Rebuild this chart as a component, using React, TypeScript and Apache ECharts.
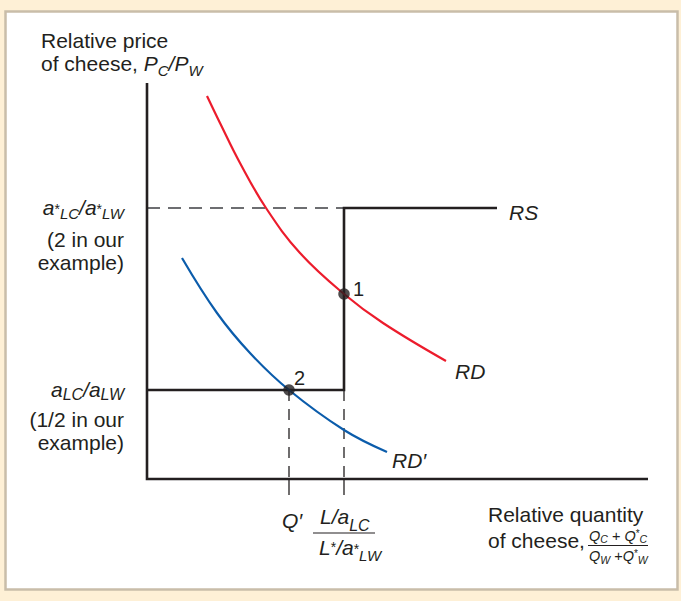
import React, { useEffect, useRef } from "react";
import * as echarts from "echarts";

// ---- data (abstract units of the diagram) ----
const X_MAX = 501;
const Y_MAX = 396;
const axisFrame = [[0, 396], [0, 0], [501, 0]];
const priceLevels = [271, 89]; // a*LC/a*LW (2), aLC/aLW (1/2)
const quantityLevels = [142, 197]; // Q', L/aLC ÷ L*/a*LW
const rsEnd = 350;
const rdCurve = [[60, 383], [73, 356], [93, 316], [119, 271], [153, 226], [197, 185], [236, 156], [299, 118]];
const rdPrimeCurve = [[35, 221], [70, 166], [103, 126], [142, 89], [197, 49], [240, 27]];
const equilibria = [[197, 185], [142, 89]];
const pointNames = ["1", "2"];

const INK = "#231f20";
const RED = "#ec1c2c";
const BLUE = "#0b5cab";
const FONT = "'Liberation Sans', Arial, Helvetica, sans-serif";

type Run = { t: string; s: number; i?: boolean; dy?: number };

let ctx: CanvasRenderingContext2D | null = null;
function fontOf(r: Run) {
  return `${r.i ? "italic " : ""}${r.s}px ${FONT}`;
}
function measure(r: Run) {
  if (!ctx) ctx = document.createElement("canvas").getContext("2d");
  ctx!.font = fontOf(r);
  return ctx!.measureText(r.t).width;
}
function layout(runs: Run[], x: number, base: number, align: "left" | "right" | "center" = "left") {
  const xs: number[] = [];
  let cur = 0;
  runs.forEach((r) => {
    xs.push(cur);
    cur += measure(r);
  });
  const x0 = align === "left" ? x : align === "right" ? x - cur : x - cur / 2;
  return runs.map((r, k) => ({
    type: "text",
    z: 100,
    silent: true,
    x: x0 + xs[k],
    y: base + (r.dy || 0) - 0.3465 * r.s,
    style: { text: r.t, font: fontOf(r), fill: INK, align: "left", verticalAlign: "middle" },
  }));
}

function line(data: number[][], color: string, width: number, type: any = "solid", z = 2, smooth: any = false) {
  return {
    type: "line",
    data,
    symbol: "none",
    clip: false,
    silent: true,
    smooth,
    z,
    lineStyle: { color, width, type, cap: "butt", join: "miter" },
  };
}

export default function App() {
  const ref = useRef<HTMLDivElement>(null);
  useEffect(() => {
    const chart = echarts.init(ref.current!, null, { renderer: "svg" });
    const [hi, lo] = priceLevels;
    const [qPrime, qFree] = quantityLevels;
    chart.setOption({
      animation: false,
      backgroundColor: "#fef0d6",
      grid: { left: 147, top: 83, width: X_MAX, height: Y_MAX },
      xAxis: { type: "value", min: 0, max: X_MAX, show: false },
      yAxis: { type: "value", min: 0, max: Y_MAX, show: false },
      series: [
        line([[-14, hi], [0, hi]], "#6d6e71", 2),
        line([[0, hi], [qFree, hi]], "#6d6e71", 1.8, [13, 8]),
        line([[-14, lo], [0, lo]], "#414042", 2),
        line([[qPrime, lo], [qPrime, 0]], INK, 1.3, [11, 8]),
        line([[qFree, lo], [qFree, 0]], INK, 1.3, [11, 8]),
        line([[qPrime, 0], [qPrime, -16]], INK, 1.3),
        line([[qFree, 0], [qFree, -16]], INK, 1.3),
        line(axisFrame, INK, 2.6, "solid", 3),
        line([[0, lo], [qFree, lo], [qFree, hi], [rsEnd, hi]], INK, 2.6, "solid", 3),
        line(rdCurve, RED, 2.2, "solid", 4, 0.4),
        line(rdPrimeCurve, BLUE, 2.2, "solid", 4, 0.4),
        {
          type: "scatter",
          data: equilibria,
          symbol: "circle",
          symbolSize: 11.5,
          itemStyle: { color: INK },
          z: 6,
          silent: true,
        },
      ],
    });

    const px = (p: number[]) => chart.convertToPixel({ gridIndex: 0 }, p) as number[];
    const [ax, ay] = px([0, 0]);
    const upY = px([0, hi])[1];
    const loY = px([0, lo])[1];
    const qx = px([qPrime, 0])[0];
    const lx = px([qFree, 0])[0];
    const rsP = px([rsEnd, hi]);
    const rdEnd = px(rdCurve[rdCurve.length - 1]);
    const rdpEnd = px(rdPrimeCurve[rdPrimeCurve.length - 1]);
    const p1 = px(equilibria[0]);
    const p2 = px(equilibria[1]);
    const R = ax - 23;

    const g: any[] = [
      {
        type: "rect",
        z: 0,
        silent: true,
        shape: { x: 5.5, y: 11.5, width: 672, height: 578 },
        style: { fill: "#ffffff", stroke: "#c9bda9", lineWidth: 2.5 },
      },
      // y-axis title
      ...layout([{ t: "Relative price", s: 21 }], 41, 47.5),
      ...layout(
        [
          { t: "of cheese, ", s: 21 },
          { t: "P", s: 21, i: true },
          { t: "C", s: 15, i: true, dy: 5 },
          { t: "/", s: 21, i: true },
          { t: "P", s: 21, i: true },
          { t: "W", s: 15, i: true, dy: 5 },
        ],
        41,
        70.5
      ),
      // upper price level label
      ...layout(
        [
          { t: "a", s: 21, i: true },
          { t: "*", s: 14, dy: -1 },
          { t: "LC", s: 15, i: true, dy: 4 },
          { t: "/", s: 21, i: true },
          { t: "a", s: 21, i: true },
          { t: "*", s: 14, dy: -1 },
          { t: "LW", s: 15, i: true, dy: 4 },
        ],
        R,
        upY + 7,
        "right"
      ),
      ...layout([{ t: "(2 in our", s: 21 }], R, upY + 38.5, "right"),
      ...layout([{ t: "example)", s: 21 }], R, upY + 62, "right"),
      // lower price level label
      ...layout(
        [
          { t: "a", s: 21, i: true },
          { t: "LC", s: 16, i: true, dy: 4 },
          { t: "/", s: 21, i: true },
          { t: "a", s: 21, i: true },
          { t: "LW", s: 16, i: true, dy: 4 },
        ],
        R,
        loY + 6.5,
        "right"
      ),
      ...layout([{ t: "(1/2 in our", s: 21 }], R, loY + 37, "right"),
      ...layout([{ t: "example)", s: 21 }], R, loY + 60, "right"),
      // curve labels
      ...layout([{ t: "RS", s: 21, i: true }], rsP[0] + 12, rsP[1] + 12),
      ...layout([{ t: "RD", s: 21, i: true }], rdEnd[0] + 9, rdEnd[1] + 18),
      ...layout([{ t: "RD\u2032", s: 21, i: true }], rdpEnd[0] + 5, rdpEnd[1] + 16),
      ...layout([{ t: pointNames[0], s: 20 }], p1[0] + 9, p1[1] + 2),
      ...layout([{ t: pointNames[1], s: 20 }], p2[0] + 5, p2[1] - 5),
      // x tick labels
      ...layout([{ t: "Q\u2032", s: 21, i: true }], qx - 7, ay + 49),
      ...layout(
        [
          { t: "L/a", s: 21, i: true },
          { t: "LC", s: 16, i: true, dy: 7 },
        ],
        lx - 24,
        ay + 45
      ),
      {
        type: "line",
        z: 100,
        silent: true,
        shape: { x1: lx - 31, y1: ay + 54, x2: lx + 31, y2: ay + 54 },
        style: { stroke: INK, lineWidth: 1.2 },
      },
      ...layout(
        [
          { t: "L", s: 21, i: true },
          { t: "*", s: 14, dy: -3 },
          { t: "/a", s: 21, i: true },
          { t: "*", s: 14, dy: -1 },
          { t: "LW", s: 15, i: true, dy: 6 },
        ],
        lx - 25,
        ay + 76
      ),
      // x-axis title
      ...layout([{ t: "Relative quantity", s: 21 }], 488, 521.5),
      ...layout([{ t: "of cheese,", s: 21 }], 488, 548),
      ...layout(
        [
          { t: "Q", s: 14.5, i: true },
          { t: "C", s: 10.5, i: true, dy: 2 },
          { t: " + ", s: 14.5 },
          { t: "Q", s: 14.5, i: true },
          { t: "*", s: 10, dy: -4 },
          { t: "C", s: 10.5, i: true, dy: 2 },
        ],
        589,
        541
      ),
      {
        type: "line",
        z: 100,
        silent: true,
        shape: { x1: 588, y1: 545.5, x2: 648, y2: 545.5 },
        style: { stroke: INK, lineWidth: 1 },
      },
      ...layout(
        [
          { t: "Q", s: 14.5, i: true },
          { t: "W", s: 10.5, i: true, dy: 3 },
          { t: " +", s: 14.5 },
          { t: "Q", s: 14.5, i: true },
          { t: "*", s: 10, dy: -4 },
          { t: "W", s: 10.5, i: true, dy: 3 },
        ],
        589,
        561
      ),
    ];
    chart.setOption({ graphic: g });
    return () => chart.dispose();
  }, []);
  return <div ref={ref} style={{ position: "absolute", left: 0, top: 0, width: 681, height: 601 }} />;
}
